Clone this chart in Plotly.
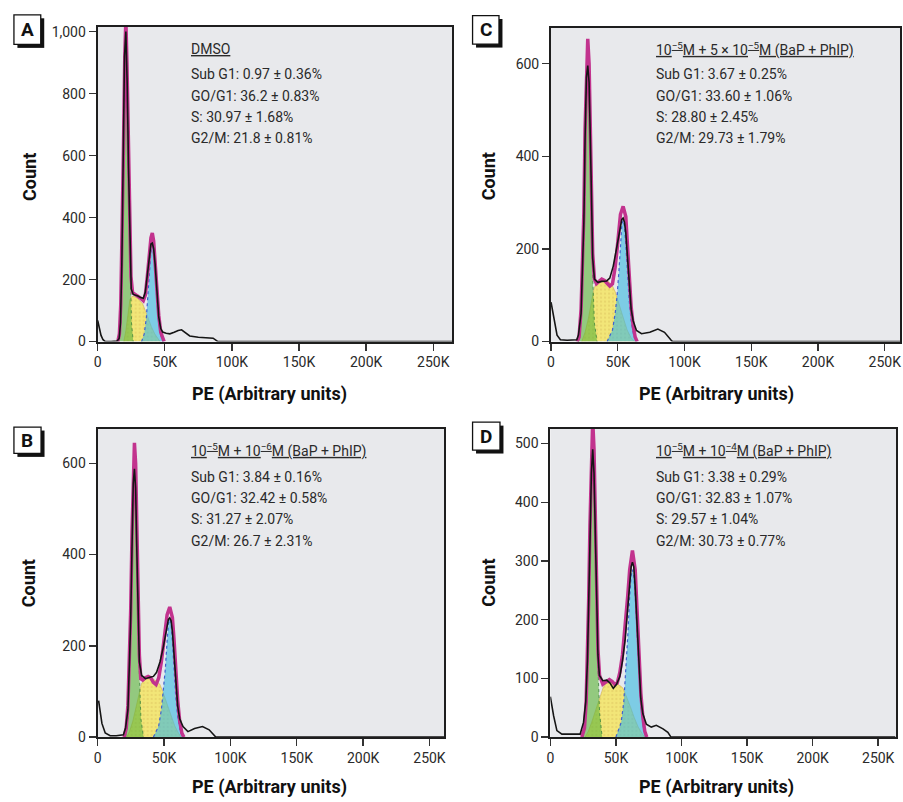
import plotly.graph_objects as go

# ---------------- data (x in thousands of arbitrary PE units, y = count) ----------------
X_TICKS = [0, 50, 100, 150, 200, 250]
X_LABELS = ["0", "50K", "100K", "150K", "200K", "250K"]

A_YTICKS = [0, 200, 400, 600, 800, 1000]
A_YLABELS = ["0", "200", "400", "600", "800", "1,000"]
C_YTICKS = [0, 200, 400, 600]
B_YTICKS = [0, 200, 400, 600]
D_YTICKS = [0, 100, 200, 300, 400, 500]

# Panel A (DMSO)
A_black_x = [0, 1.2, 2.5, 4, 5.7, 10, 14.5, 16, 17, 18, 19, 20, 21, 22, 23, 24, 25, 26.5, 28, 30, 32, 34, 35.5, 37, 38.5, 39.7, 40.7, 41.7, 42.8, 44, 45.5, 47, 48.4, 51, 53.8, 57, 60, 62.5, 65, 68.6, 75, 82, 86, 89.6, 264]
A_black_y = [68, 45, 20, 6, 0, 0, 2, 10, 60, 250, 560, 920, 1000, 830, 560, 300, 170, 152, 150, 147, 142, 140, 160, 215, 280, 315, 318, 300, 250, 160, 80, 42, 31, 27, 25, 30, 36, 38, 30, 18, 14, 12, 11, 0, 0]
A_fit_x = [15, 16.2, 17.2, 18.2, 19.2, 20.2, 21, 21.8, 22.8, 23.8, 24.8, 26, 28, 30, 32, 34, 35.5, 37, 38.5, 39.7, 40.7, 41.7, 42.8, 44, 45.5, 47, 48.5, 49.5]
A_fit_y = [0, 25, 120, 330, 620, 920, 1040, 900, 640, 380, 210, 158, 152, 148, 140, 132, 150, 210, 290, 335, 350, 325, 255, 165, 85, 30, 8, 0]
A_g1_x = [15.5, 16.8, 17.8, 18.5, 19.2, 20.2, 21, 21.8, 22.8, 23.5, 24.2, 25.2, 26.5]
A_g1_y = [0, 60, 200, 380, 560, 880, 960, 860, 600, 400, 200, 60, 0]
A_s_x = [19.5, 21, 22.5, 24, 25.5, 27.5, 29.5, 31.5, 33.5, 35.5, 37.5, 40, 42.5, 45, 46.5]
A_s_y = [0, 35, 85, 135, 146, 145, 140, 132, 122, 100, 75, 48, 25, 8, 0]
A_g2_x = [32.7, 34.7, 36.2, 37.5, 38.5, 39.5, 40.7, 41.9, 42.9, 43.9, 45.2, 46.7, 48.7]
A_g2_y = [0, 25, 74, 150, 233, 280, 318, 280, 233, 150, 74, 25, 0]

# Panel C (1e-5 M + 5e-5 M)
C_black_x = [0, 2, 4.5, 7, 12, 19.3, 20.5, 22.5, 23.8, 24.6, 25.5, 26.5, 27.5, 28.5, 29.5, 30.4, 31.2, 32.5, 35, 38, 41.7, 44, 46.6, 49, 50.8, 52, 53, 54, 55, 56, 57.2, 58.5, 60, 61.5, 64, 67.8, 74, 80, 85, 90, 91, 262]
C_black_y = [85, 50, 14, 4, 3, 4, 14, 60, 170, 260, 440, 570, 596, 560, 430, 260, 180, 135, 128, 130, 131, 137, 163, 200, 230, 252, 264, 267, 258, 235, 190, 125, 70, 45, 24, 17, 20, 27, 20, 3, 0, 0]
C_fit_x = [19.5, 21, 22.5, 23.8, 24.6, 25.5, 26.5, 27.5, 28.5, 29.5, 30.4, 31.2, 32.5, 34, 36, 38, 40, 42, 44, 46, 48, 49.5, 50.8, 52, 54, 56, 57.2, 58.5, 60, 61.5, 63, 64.5]
C_fit_y = [0, 10, 70, 190, 280, 460, 600, 654, 600, 460, 290, 190, 135, 125, 130, 135, 132, 125, 120, 125, 160, 200, 240, 275, 292, 270, 210, 140, 75, 35, 10, 0]
C_g1_x = [20.5, 22.5, 23.8, 24.6, 25.5, 26.5, 27.5, 28.5, 29.5, 30.4, 31.2, 32.5, 34.5]
C_g1_y = [0, 40, 150, 230, 430, 560, 590, 560, 430, 230, 140, 40, 0]
C_s_x = [23, 25.5, 28, 30, 32, 34, 36.5, 39, 41.5, 44, 46, 48, 51, 54, 57, 60, 62.7]
C_s_y = [0, 20, 50, 80, 112, 128, 134, 135, 133, 127, 120, 108, 80, 50, 25, 8, 0]
C_g2_x = [42, 46, 48, 49.5, 50.8, 52, 53, 54, 55, 56, 57.2, 58.5, 60, 62, 64.5]
C_g2_y = [0, 25, 60, 100, 150, 210, 250, 262, 250, 210, 150, 90, 45, 12, 0]

# Panel B (1e-5 M + 1e-6 M)
B_black_x = [0.7, 3.2, 5.7, 9.4, 14, 19.4, 21, 22.8, 24, 24.9, 25.9, 26.8, 27.7, 28.6, 29.5, 30.5, 31.4, 33.1, 36, 39.4, 42, 44.4, 47, 49.3, 51, 52.3, 53.3, 54.3, 55.3, 56.3, 57.5, 58.8, 60.3, 61.8, 64.3, 68, 73, 79, 84, 89, 261]
B_black_y = [80, 30, 9, 3, 3, 5, 20, 60, 170, 260, 420, 555, 588, 545, 410, 250, 165, 135, 128, 131, 133, 142, 165, 195, 225, 248, 258, 261, 255, 232, 185, 125, 68, 40, 23, 12, 19, 23, 16, 0, 0]
B_fit_x = [20, 21.5, 22.8, 24, 24.9, 25.9, 26.8, 27.7, 28.6, 29.5, 30.5, 31.4, 32.5, 34, 36, 38, 40, 42, 44, 46, 48, 49.5, 51, 52.3, 54.3, 56.3, 57.5, 58.8, 60.3, 61.8, 63.5, 65]
B_fit_y = [0, 20, 70, 190, 280, 450, 600, 645, 600, 450, 280, 180, 128, 125, 130, 133, 130, 120, 115, 130, 165, 200, 240, 268, 285, 262, 215, 145, 80, 35, 8, 0]
B_g1_x = [21, 22.8, 24, 24.9, 25.9, 26.8, 27.7, 28.6, 29.5, 30.5, 31.4, 32.6, 34.5]
B_g1_y = [0, 40, 140, 230, 400, 540, 585, 540, 400, 230, 140, 40, 0]
B_s_x = [21.9, 24, 26.5, 29, 31, 33, 35, 37, 39.4, 42, 44.5, 46.8, 49, 52, 55, 58, 61, 63]
B_s_y = [0, 12, 35, 65, 95, 117, 125, 128, 129, 127, 122, 116, 100, 75, 48, 25, 8, 0]
B_g2_x = [42, 46, 48, 49.5, 51, 52.3, 53.3, 54.3, 55.3, 56.3, 57.5, 58.8, 60.3, 62.3, 64.5]
B_g2_y = [0, 25, 60, 100, 150, 210, 248, 258, 248, 210, 150, 90, 45, 12, 0]

# Panel D (1e-5 M + 1e-4 M)
D_black_x = [0, 2.5, 5, 8.8, 15, 22.7, 25.3, 27, 28.3, 29.2, 30.2, 31.3, 32.3, 33.3, 34.4, 35.4, 36.3, 37.4, 40, 43, 45.5, 48, 50.5, 53, 55, 57, 59, 60.5, 61.6, 62.6, 63.6, 64.7, 66.2, 67.6, 69, 70.5, 73.2, 77, 80.8, 85.9, 89.6, 92, 263]
D_black_y = [69, 36, 11, 5, 5, 5, 25, 60, 130, 210, 330, 450, 490, 450, 330, 210, 140, 105, 96, 97, 92, 83, 90, 103, 130, 165, 215, 260, 290, 298, 290, 255, 185, 110, 65, 40, 22, 17, 20, 14, 8, 0, 0]
D_fit_x = [24, 26, 27.3, 28.3, 29.2, 30.2, 31.3, 32.3, 33.3, 34.4, 35.4, 36.3, 37.5, 40, 43, 45, 47, 49, 51, 53, 55, 57, 59, 60.5, 62.6, 64.7, 66.2, 67.6, 69, 70.5, 72, 73.5]
D_fit_y = [0, 15, 60, 140, 230, 360, 490, 540, 490, 360, 230, 150, 105, 90, 95, 98, 95, 90, 92, 110, 140, 185, 240, 285, 318, 285, 210, 135, 75, 35, 10, 0]
D_g1_x = [25, 27, 28.3, 29.2, 30.2, 31.3, 32.3, 33.3, 34.4, 35.4, 36.3, 37.6, 39.5]
D_g1_y = [0, 40, 120, 200, 320, 440, 480, 440, 320, 200, 120, 40, 0]
D_s_x = [26.5, 29, 31.5, 34, 36.5, 38.5, 40.4, 42.5, 44.5, 46.7, 49, 51.5, 53.5, 55.5, 58, 61, 64, 67, 70, 72]
D_s_y = [0, 10, 25, 42, 60, 75, 85, 91, 93, 94, 93, 90, 87, 83, 70, 52, 33, 17, 6, 0]
D_g2_x = [50, 54, 56, 57.6, 59, 60.5, 61.6, 62.6, 63.6, 64.7, 66.2, 67.6, 69, 71, 73.5]
D_g2_y = [0, 25, 60, 110, 170, 240, 275, 285, 275, 240, 170, 110, 55, 15, 0]

A_TITLE = "DMSO"
A_LINES = ["Sub G1: 0.97 ± 0.36%", "GO/G1: 36.2 ± 0.83%", "S: 30.97 ± 1.68%", "G2/M: 21.8 ± 0.81%"]
C_TITLE = "10<sup>−5</sup>M + 5 × 10<sup>−5</sup>M (BaP + PhIP)"
C_LINES = ["Sub G1: 3.67 ± 0.25%", "GO/G1: 33.60 ± 1.06%", "S: 28.80 ± 2.45%", "G2/M: 29.73 ± 1.79%"]
B_TITLE = "10<sup>−5</sup>M + 10<sup>−6</sup>M (BaP + PhIP)"
B_LINES = ["Sub G1: 3.84 ± 0.16%", "GO/G1: 32.42 ± 0.58%", "S: 31.27 ± 2.07%", "G2/M: 26.7 ± 2.31%"]
D_TITLE = "10<sup>−5</sup>M + 10<sup>−4</sup>M (BaP + PhIP)"
D_LINES = ["Sub G1: 3.38 ± 0.29%", "GO/G1: 32.83 ± 1.07%", "S: 29.57 ± 1.04%", "G2/M: 30.73 ± 0.77%"]

# ---------------- layout helpers ----------------
W, H = 903, 802
FONT = "Roboto, Liberation Sans, Arial, sans-serif"
TXT = "#2a2a2a"


def fx(p):
    return p / W


def fy(p):
    return 1 - p / H


panels = [
    dict(name="A", n="", dx=(94.3, 451), dy=(24, 343.3), xr=264, yr=1016,
         yt=A_YTICKS, ytt=A_YLABELS,
         black=(A_black_x, A_black_y), fit=(A_fit_x, A_fit_y), g1=(A_g1_x, A_g1_y),
         s=(A_s_x, A_s_y), g2=(A_g2_x, A_g2_y), title=A_TITLE, lines=A_LINES,
         tpos=(186, 47, [72, 94, 116, 137]), box=(10, 12, 37, 42),
         count=(25.5, 176), pe=(267.5, 396)),
    dict(name="C", n="2", dx=(550.7, 902), dy=(25, 343.3), xr=261.4, yr=678,
         yt=C_YTICKS, ytt=[str(v) for v in C_YTICKS],
         black=(C_black_x, C_black_y), fit=(C_fit_x, C_fit_y), g1=(C_g1_x, C_g1_y),
         s=(C_s_x, C_s_y), g2=(C_g2_x, C_g2_y), title=C_TITLE, lines=C_LINES,
         tpos=(654, 47, [72, 94, 116, 137]), box=(471.7, 12.7, 498.3, 41.7),
         count=(488, 176), pe=(717.5, 396)),
    dict(name="B", n="3", dx=(94.3, 443), dy=(432, 744.3), xr=261, yr=675,
         yt=B_YTICKS, ytt=[str(v) for v in B_YTICKS],
         black=(B_black_x, B_black_y), fit=(B_fit_x, B_fit_y), g1=(B_g1_x, B_g1_y),
         s=(B_s_x, B_s_y), g2=(B_g2_x, B_g2_y), title=B_TITLE, lines=B_LINES,
         tpos=(186, 454, [481, 502, 523, 545]), box=(10, 430, 37.3, 456.7),
         count=(25.5, 588), pe=(267.5, 795)),
    dict(name="D", n="4", dx=(550, 898), dy=(432, 744.3), xr=263.6, yr=524.6,
         yt=D_YTICKS, ytt=[str(v) for v in D_YTICKS],
         black=(D_black_x, D_black_y), fit=(D_fit_x, D_fit_y), g1=(D_g1_x, D_g1_y),
         s=(D_s_x, D_s_y), g2=(D_g2_x, D_g2_y), title=D_TITLE, lines=D_LINES,
         tpos=(654, 454, [481, 502, 523, 545]), box=(471.7, 425, 499.3, 453.3),
         count=(488, 588), pe=(717.5, 795)),
]

fig = go.Figure()
layout = dict(width=W, height=H, autosize=False, margin=dict(l=0, r=0, t=0, b=0, pad=0),
              paper_bgcolor="white", plot_bgcolor="#e8e9ec", showlegend=False,
              font=dict(family=FONT, color=TXT))
annotations = []
shapes = []

for p in panels:
    xa, ya = "x" + p["n"], "y" + p["n"]
    common = dict(xaxis=xa, yaxis=ya, hoverinfo="skip", mode="lines")
    # S phase (yellow, dotted texture)
    fig.add_trace(go.Scatter(x=p["s"][0], y=p["s"][1], fill="tozeroy",
                             fillcolor="rgb(242,230,120)",
                             fillpattern=dict(shape=".", bgcolor="rgb(242,230,120)",
                                              fgcolor="rgb(222,196,95)", size=4, solidity=0.25),
                             line=dict(color="rgba(210,180,80,0.8)", width=0.8), **common))
    # G2/M (cyan)
    fig.add_trace(go.Scatter(x=p["g2"][0], y=p["g2"][1], fill="tozeroy",
                             fillcolor="rgba(60,185,225,0.62)",
                             line=dict(color="#4060d0", width=1.2, dash="dot"), **common))
    # G0/G1 (green)
    fig.add_trace(go.Scatter(x=p["g1"][0], y=p["g1"][1], fill="tozeroy",
                             fillcolor="rgba(95,180,60,0.62)",
                             line=dict(color="rgba(60,130,60,0.8)", width=1, dash="dot"), **common))
    # fitted envelope (magenta)
    fig.add_trace(go.Scatter(x=p["fit"][0], y=p["fit"][1],
                             line=dict(color="#c2338e", width=3.5), **common))
    # measured histogram (black)
    fig.add_trace(go.Scatter(x=p["black"][0], y=p["black"][1],
                             line=dict(color="#151515", width=1.6), **common))

    axis_common = dict(showline=True, mirror=True, linecolor="#1e1e1e", linewidth=2,
                       ticks="outside", ticklen=7, tickwidth=1.4, tickcolor="#333",
                       showgrid=False, zeroline=False, fixedrange=True,
                       tickfont=dict(family=FONT, size=14, color=TXT))
    layout["xaxis" + p["n"]] = dict(domain=[fx(p["dx"][0]), fx(p["dx"][1])], anchor=ya,
                                    range=[0, p["xr"]], tickvals=X_TICKS, ticktext=X_LABELS,
                                    **axis_common)
    layout["yaxis" + p["n"]] = dict(domain=[fy(p["dy"][1]), fy(p["dy"][0])], anchor=xa,
                                    range=[0, p["yr"]], tickvals=p["yt"], ticktext=p["ytt"],
                                    **axis_common)

    tx, ty, lys = p["tpos"]
    annotations.append(dict(xref="paper", yref="paper", x=fx(tx), y=fy(ty), xanchor="left",
                            yanchor="middle", showarrow=False, text="<u>" + p["title"] + "</u>",
                            font=dict(family=FONT, size=14, color=TXT)))
    for line, ly in zip(p["lines"], lys):
        annotations.append(dict(xref="paper", yref="paper", x=fx(tx), y=fy(ly), xanchor="left",
                                yanchor="middle", showarrow=False, text=line,
                                font=dict(family=FONT, size=14, color=TXT)))
    # axis titles
    annotations.append(dict(xref="paper", yref="paper", x=fx(p["count"][0]), y=fy(p["count"][1]),
                            xanchor="center", yanchor="middle", showarrow=False, textangle=-90,
                            text="<b>Count</b>", font=dict(family=FONT, size=18, color="#111")))
    annotations.append(dict(xref="paper", yref="paper", x=fx(p["pe"][0]), y=fy(p["pe"][1]),
                            xanchor="center", yanchor="middle", showarrow=False,
                            text="<b>PE (Arbitrary units)</b>",
                            font=dict(family=FONT, size=18, color="#111")))
    # panel letter box with shadow
    x0, y0, x1, y1 = p["box"]
    shapes.append(dict(type="rect", xref="paper", yref="paper", x0=fx(x0 + 3.5), x1=fx(x1 + 3.5),
                       y0=fy(y1 + 3.5), y1=fy(y0 + 3.5), fillcolor="#111", line=dict(width=0)))
    shapes.append(dict(type="rect", xref="paper", yref="paper", x0=fx(x0), x1=fx(x1),
                       y0=fy(y1), y1=fy(y0), fillcolor="white", line=dict(color="#111", width=1.3)))
    annotations.append(dict(xref="paper", yref="paper", x=fx((x0 + x1) / 2), y=fy((y0 + y1) / 2),
                            xanchor="center", yanchor="middle", showarrow=False,
                            text="<b>" + p["name"] + "</b>",
                            font=dict(family=FONT, size=19, color="#111")))

layout["annotations"] = annotations
layout["shapes"] = shapes
fig.update_layout(**layout)
fig.write_html("out.html", config={"displayModeBar": False, "staticPlot": True},
               post_script="document.body.style.margin='0px';document.body.style.overflow='hidden';")
